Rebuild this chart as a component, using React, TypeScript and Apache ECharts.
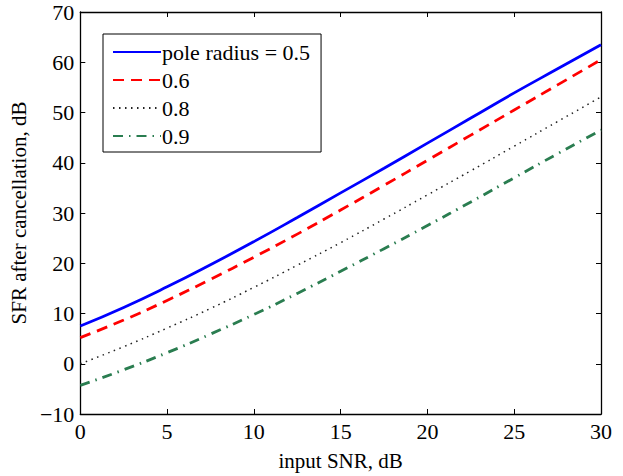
import React, { useEffect, useRef } from "react";
import * as echarts from "echarts";

const snr = [0, 2.5, 5, 7.5, 10, 12.5, 15, 17.5, 20, 22.5, 25, 27.5, 30];
const r05 = [7.5, 11.2, 15.3, 19.7, 24.3, 29.1, 34.0, 38.9, 43.9, 48.9, 53.9, 58.7, 63.5];
const r06 = [5.2, 8.7, 12.6, 16.8, 21.2, 25.8, 30.6, 35.5, 40.5, 45.5, 50.5, 55.5, 60.5];
const r08 = [0.0, 3.4, 7.1, 11.0, 15.2, 19.6, 24.1, 28.8, 33.6, 38.4, 43.3, 48.2, 53.1];
const r09 = [-4.3, -1.2, 2.2, 5.9, 9.8, 14.0, 18.4, 22.9, 27.5, 32.2, 37.0, 41.8, 46.5];
const names = ["pole radius = 0.5", "0.6", "0.8", "0.9"];

const FONT = "Liberation Serif";

export default function App() {
  const ref = useRef<HTMLDivElement>(null);
  useEffect(() => {
    if (!ref.current) return;
    const chart = echarts.init(ref.current, null, { renderer: "svg" });
    const pair = (ys: number[]) => snr.map((x, i) => [x, ys[i]]);
    const axisCommon = {
      axisLine: { show: true, onZero: false, lineStyle: { color: "#000", width: 1.3 } },
      axisTick: { show: true, inside: true, length: 5, lineStyle: { color: "#000", width: 1 } },
      splitLine: { show: false },
    };
    chart.setOption({
      animation: false,
      backgroundColor: "#fff",
      grid: { left: 80, top: 12, right: 22, bottom: 53 },
      legend: {
        left: 103,
        top: 34,
        orient: "vertical",
        data: names,
        itemWidth: 48,
        itemHeight: 14,
        itemGap: 6,
        padding: [7, 11, 5, 9],
        borderColor: "#000",
        borderWidth: 1,
        backgroundColor: "#fff",
        itemStyle: { opacity: 0 },
        textStyle: { fontFamily: FONT, fontSize: 22, color: "#000", padding: [0, 0, 0, -4] },
      },
      xAxis: [
        {
          type: "value",
          min: 0,
          max: 30,
          interval: 5,
          name: "input SNR, dB",
          nameLocation: "middle",
          nameGap: 36,
          nameTextStyle: { fontFamily: FONT, fontSize: 21, color: "#000" },
          axisLabel: { fontFamily: FONT, fontSize: 22, color: "#000", margin: 6 },
          ...axisCommon,
        },
        {
          type: "value",
          min: 0,
          max: 30,
          interval: 5,
          position: "top",
          axisLabel: { show: false },
          ...axisCommon,
        },
      ],
      yAxis: [
        {
          type: "value",
          min: -10,
          max: 70,
          interval: 10,
          name: "SFR after cancellation, dB",
          nameLocation: "middle",
          nameGap: 45,
          nameTextStyle: { fontFamily: FONT, fontSize: 21, color: "#000" },
          axisLabel: {
            fontFamily: FONT,
            fontSize: 22,
            color: "#000",
            margin: 6,
            formatter: (v: number) => (v < 0 ? "\u2212" + Math.abs(v) : String(v)),
          },
          ...axisCommon,
        },
        {
          type: "value",
          min: -10,
          max: 70,
          interval: 10,
          position: "right",
          axisLabel: { show: false },
          ...axisCommon,
        },
      ],
      series: [
        {
          name: names[0],
          type: "line",
          data: pair(r05),
          smooth: true,
          showSymbol: false,
          symbol: "none",
          lineStyle: { color: "#0000ff", width: 2.8, type: "solid" },
          itemStyle: { color: "#0000ff" },
        },
        {
          name: names[1],
          type: "line",
          data: pair(r06),
          smooth: true,
          showSymbol: false,
          symbol: "none",
          lineStyle: { color: "#ff0000", width: 2.8, type: [11, 7] },
          itemStyle: { color: "#ff0000" },
        },
        {
          name: names[2],
          type: "line",
          data: pair(r08),
          smooth: true,
          showSymbol: false,
          symbol: "none",
          lineStyle: { color: "#222", width: 1.5, type: [1.5, 4.5] },
          itemStyle: { color: "#222" },
        },
        {
          name: names[3],
          type: "line",
          data: pair(r09),
          smooth: true,
          showSymbol: false,
          symbol: "none",
          lineStyle: { color: "#2a7d50", width: 2.8, type: [10, 6, 1.5, 6] },
          itemStyle: { color: "#2a7d50" },
        },
      ],
    });
    return () => chart.dispose();
  }, []);
  return (
    <div
      ref={ref}
      style={{ position: "absolute", left: 0, top: 0, width: 623, height: 476 }}
    />
  );
}
